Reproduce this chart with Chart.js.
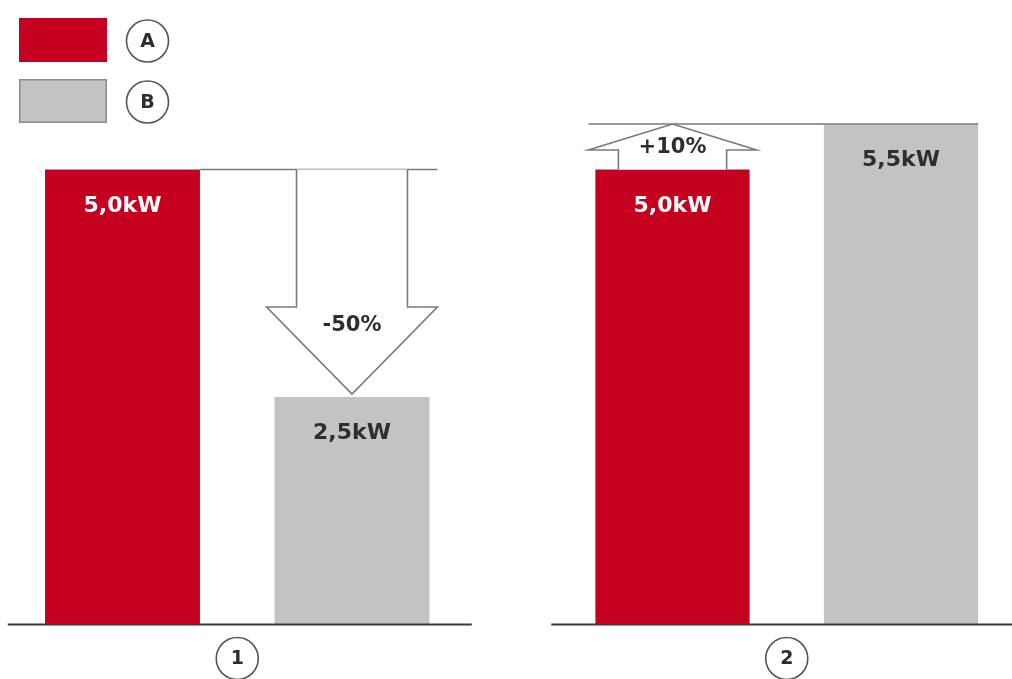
<!DOCTYPE html>
<html>
<head>
<meta charset="utf-8">
<script src="https://cdn.jsdelivr.net/npm/chart.js@4"></script>
<style>
  html, body { margin: 0; padding: 0; background: #ffffff; overflow: hidden; width: 1012px; height: 679px; }
  canvas { position: absolute; top: 0; }
  #left { left: 0; }
  #right { left: 480px; }
</style>
</head>
<body>
<canvas id="left" width="480" height="679"></canvas>
<canvas id="right" width="540" height="679"></canvas>
<script>
// Series (legend keys) and the two comparison groups
const seriesNames = ['A', 'B'];
const groupNames = ['1', '2'];
// Power in kW per group
const valuesA = [5.0, 5.0];
const valuesB = [2.5, 5.5];
// Relative change from A to B per group
const changeLabels = ['-50%', '+10%'];

const RED = '#c6001f';
const GREY = '#c3c3c3';
const LINE = '#7a7a7a';
const DARK = '#2e2e2e';
const FONT = '"DejaVu Sans", "Liberation Sans", Arial, sans-serif';

const fmtKW = v => v.toFixed(1).replace('.', ',') + 'kW';

function circleLabel(ctx, x, y, r, text) {
  ctx.save();
  ctx.beginPath();
  ctx.arc(x, y, r, 0, Math.PI * 2);
  ctx.fillStyle = '#ffffff';
  ctx.fill();
  ctx.lineWidth = 1.6;
  ctx.strokeStyle = '#555555';
  ctx.stroke();
  ctx.fillStyle = DARK;
  ctx.font = 'bold 19px ' + FONT;
  ctx.textAlign = 'center';
  ctx.textBaseline = 'middle';
  ctx.fillText(text, x, y + 1);
  ctx.restore();
}

// Arrow shape from y0 (base) to y1 (tip) over a bar
function drawArrow(ctx, cx, shaftHalf, headHalf, y0, y1, headLen) {
  const dir = y1 > y0 ? 1 : -1;
  const hb = y1 - dir * headLen;
  ctx.save();
  ctx.beginPath();
  ctx.moveTo(cx - shaftHalf, y0);
  ctx.lineTo(cx - shaftHalf, hb);
  ctx.lineTo(cx - headHalf, hb);
  ctx.lineTo(cx, y1);
  ctx.lineTo(cx + headHalf, hb);
  ctx.lineTo(cx + shaftHalf, hb);
  ctx.lineTo(cx + shaftHalf, y0);
  ctx.fillStyle = '#ffffff';
  ctx.fill();
  ctx.lineWidth = 1.6;
  ctx.strokeStyle = LINE;
  ctx.stroke();
  ctx.restore();
  return hb;
}

const decorPlugin = {
  id: 'decor',
  afterDatasetsDraw(chart, args, opts) {
    const ctx = chart.ctx;
    const area = chart.chartArea;
    const meta = chart.getDatasetMeta(0);
    const y = chart.scales.y;
    const g = opts.group;
    const barA = meta.data[0], barB = meta.data[1];
    const wA = barA.width, wB = barB.width;

    // baseline
    ctx.save();
    ctx.beginPath();
    ctx.moveTo(area.left - opts.extLeft, area.bottom);
    ctx.lineTo(area.right + opts.extRight, area.bottom);
    ctx.lineWidth = 2;
    ctx.strokeStyle = '#3a3a3a';
    ctx.stroke();
    ctx.restore();

    // value labels inside bars
    ctx.save();
    ctx.font = 'bold 22px ' + FONT;
    ctx.textAlign = 'center';
    ctx.textBaseline = 'alphabetic';
    ctx.fillStyle = '#ffffff';
    ctx.fillText(fmtKW(valuesA[g]), barA.x, barA.y + 42);
    ctx.fillStyle = DARK;
    ctx.fillText(fmtKW(valuesB[g]), barB.x, barB.y + 42);
    ctx.restore();

    const yA = y.getPixelForValue(valuesA[g]);
    const yB = y.getPixelForValue(valuesB[g]);
    ctx.save();
    ctx.lineWidth = 1.6;
    ctx.strokeStyle = LINE;
    if (yB > yA) {
      // decrease: arrow down over bar B
      const shaftHalf = wB / 2 - 22, headHalf = wB / 2 + 8;
      ctx.beginPath();
      ctx.moveTo(barA.x + wA / 2, yA);
      ctx.lineTo(barB.x + headHalf, yA);
      ctx.stroke();
      const hb = drawArrow(ctx, barB.x, shaftHalf, headHalf, yA, yB - 3, 87);
      ctx.fillStyle = DARK;
      ctx.font = 'bold 21px ' + FONT;
      ctx.textAlign = 'center';
      ctx.textBaseline = 'middle';
      ctx.fillText(changeLabels[g], barB.x, hb + 19);
    } else {
      // increase: arrow up over bar A
      const shaftHalf = wA / 2 - 23, headHalf = wA / 2 + 7;
      ctx.beginPath();
      ctx.moveTo(barA.x - headHalf, yB);
      ctx.lineTo(barB.x + wB / 2, yB);
      ctx.stroke();
      drawArrow(ctx, barA.x, shaftHalf, headHalf, yA, yB, 26);
      ctx.fillStyle = DARK;
      ctx.font = 'bold 21px ' + FONT;
      ctx.textAlign = 'center';
      ctx.textBaseline = 'middle';
      ctx.fillText(changeLabels[g], barA.x, yA - 22);
    }
    ctx.restore();

    // group number below the axis
    circleLabel(ctx, (area.left + area.right) / 2, area.bottom + 34, 21, groupNames[g]);

    // legend keys
    if (opts.legend) {
      const colors = chart.data.datasets[0].backgroundColor;
      seriesNames.forEach((name, i) => {
        const top = 18 + i * 61;
        ctx.save();
        ctx.fillStyle = colors[i];
        ctx.fillRect(19, top, 88, 44);
        if (i === 1) {
          ctx.lineWidth = 1.5;
          ctx.strokeStyle = '#8c8c8c';
          ctx.strokeRect(19.75, top + 0.75, 86.5, 42.5);
        }
        ctx.restore();
        circleLabel(ctx, 147.5, top + 23, 21, name);
      });
    }
  }
};

function makeChart(id, g, pad, ext, legend) {
  return new Chart(document.getElementById(id), {
    type: 'bar',
    data: {
      labels: seriesNames,
      datasets: [{
        data: [valuesA[g], valuesB[g]],
        backgroundColor: [RED, GREY],
        borderWidth: 0,
        categoryPercentage: 1,
        barPercentage: 0.675
      }]
    },
    options: {
      responsive: false,
      animation: false,
      devicePixelRatio: 1,
      layout: { padding: { left: pad.left, right: pad.right, top: 78.5, bottom: 54.5 } },
      scales: {
        x: { display: false },
        y: { display: false, min: 0, max: 6 }
      },
      plugins: {
        legend: { display: false },
        tooltip: { enabled: false },
        decor: { group: g, extLeft: ext.left, extRight: ext.right, legend: legend }
      }
    },
    plugins: [decorPlugin]
  });
}

makeChart('left', 0, { left: 7.75, right: 13.25 }, { left: 0, right: 5 }, true);
makeChart('right', 1, { left: 78.25, right: 4.75 }, { left: 7, right: 0 }, false);
</script>
</body>
</html>
